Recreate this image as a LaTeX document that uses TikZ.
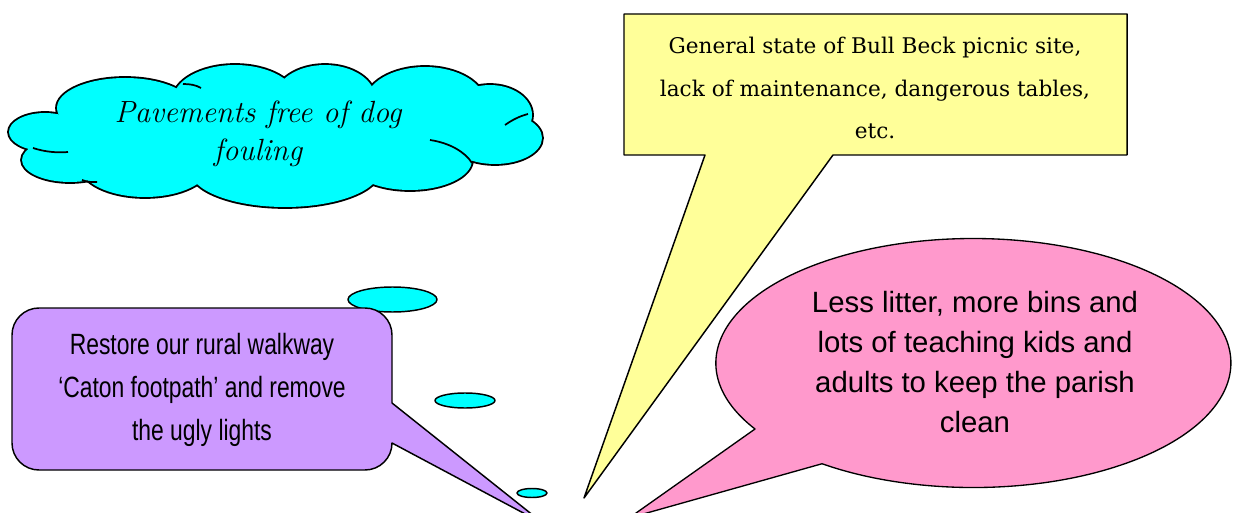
\documentclass[tikz,border=0pt]{standalone}
\usepackage{fontspec}
\newfontfamily\yellowfont{DejaVu Serif}
\newfontfamily\pinkfont{Liberation Sans}
\newfontfamily\purplefont[FakeStretch=0.78]{Liberation Sans}
\definecolor{bubblecyan}{HTML}{00FFFF}
\definecolor{noteyellow}{HTML}{FFFF99}
\definecolor{notepink}{HTML}{FF99CC}
\definecolor{notepurple}{HTML}{CC99FF}
\begin{document}
\begin{tikzpicture}[x=0.75pt, y=-0.75pt, line join=round,
	outline/.style={draw=black, line width=1.1pt},
	txt/.style={align=center, inner sep=0pt, text=black}]
	\useasboundingbox (0,0) rectangle (1234,513);
	
	% Cloud: puffs drawn thick, then filled again so only the outer rim stays
	\def\puffs{45/132/36/19, 70/160/48/22, 125/108/68/30, 235/100/62/35, 325/98/50/33,
		425/103/60/36, 490/115/42/30, 495/138/47/26, 410/160/62/30, 285/170/95/37,
		145/165/65/32, 280/135/215/50}
	\foreach \cx/\cy/\rx/\ry in \puffs
		\draw[line width=2.8pt] (\cx,\cy) ellipse [x radius=\rx, y radius=\ry];
	\foreach \cx/\cy/\rx/\ry in \puffs
		\fill[bubblecyan] (\cx,\cy) ellipse [x radius=\rx, y radius=\ry];
	% little inner strokes of the cloud
	\draw[line width=1.3pt] (33,148) .. controls (45,152) and (58,153) .. (68,152);
	\draw[line width=1.3pt] (82,180) .. controls (88,182) .. (97,182);
	\draw[line width=1.3pt] (183,84) .. controls (190,84) and (196,85) .. (201,88);
	\draw[line width=1.3pt] (505,125) .. controls (512,120) and (520,116) .. (528,114);
	\draw[line width=1.3pt] (430,140) .. controls (450,143) and (465,152) .. (472,163);
	\node[txt, font=\fontsize{23}{28.5}\selectfont\itshape] (dogtext) at (258,134) {Pavements free of dog\\fouling};
	
	% Thought bubbles
	\draw[outline, fill=bubblecyan] (392.5,299.5) ellipse [x radius=44.5, y radius=12.5];
	\draw[outline, fill=bubblecyan] (465,400.5) ellipse [x radius=30, y radius=7.5];
	\draw[outline, fill=bubblecyan] (532,493) ellipse [x radius=15, y radius=4.5];
	
	% Yellow callout
	\draw[outline, fill=noteyellow] (624,14) -- (1127,14) -- (1127,155) -- (833,155) -- (584,498) -- (705,155) -- (624,155) -- cycle;
	\node[txt, font=\yellowfont\fontsize{16.2}{32}\selectfont] (picnic) at (875,88)
		{General state of Bull Beck picnic site,\\lack of maintenance, dangerous tables,\\etc.};
	
	% Pink callout
	\draw[outline, line width=1pt, fill=notepink] (629,518) -- (755,429)
		arc[start angle=148, end angle=486, x radius=257.5, y radius=124.5] -- cycle;
	\node[txt, font=\pinkfont\fontsize{22}{30}\selectfont] (litter) at (975,362)
		{Less litter, more bins and\\lots of teaching kids and\\adults to keep the parish\\clean};
	
	% Purple callout
	\draw[outline, fill=notepurple] (39,308) -- (365,308) arc[start angle=-90, end angle=0, radius=27]
		-- (392,403) -- (544,524) -- (392,443) arc[start angle=0, end angle=90, radius=27]
		-- (39,470) arc[start angle=90, end angle=180, radius=27]
		-- (12,335) arc[start angle=180, end angle=270, radius=27] -- cycle;
	\node[txt, font=\purplefont\fontsize{22}{32}\selectfont] (walkway) at (202,390)
		{Restore our rural walkway\\‘Caton footpath’ and remove\\the ugly lights};
\end{tikzpicture}
\end{document}
